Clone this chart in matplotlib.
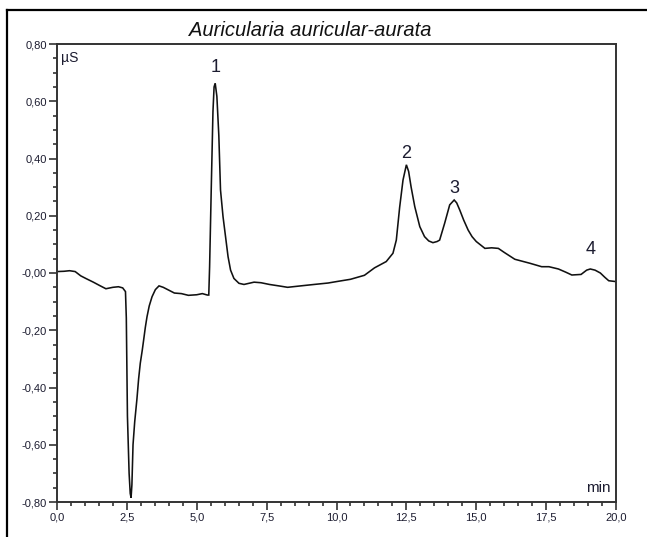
import matplotlib
matplotlib.use("Agg")
import matplotlib.pyplot as plt
from matplotlib.lines import Line2D
from matplotlib.ticker import FixedLocator, MultipleLocator

plt.rcParams['font.family'] = ['Liberation Sans', 'DejaVu Sans']

# ---- data ----
time_min = [0.00, 0.25, 0.45, 0.65, 0.85, 1.05, 1.30, 1.55, 1.75, 2.00, 2.20, 2.35, 2.45,
            2.48, 2.52, 2.58, 2.62, 2.65, 2.68, 2.72, 2.78, 2.86, 2.92, 2.98, 3.05, 3.10,
            3.16, 3.22, 3.30, 3.40, 3.52, 3.65, 3.80, 4.00, 4.20, 4.45, 4.70, 5.00, 5.20,
            5.38, 5.43, 5.46, 5.52, 5.58, 5.62, 5.66, 5.72, 5.79, 5.85, 5.94, 6.03, 6.12,
            6.21, 6.33, 6.51, 6.69, 7.05, 7.30, 7.60, 8.00, 8.25, 8.72, 9.20, 9.70, 10.00,
            10.50, 11.00, 11.36, 11.78, 12.02, 12.14, 12.26, 12.38, 12.50, 12.58, 12.67,
            12.80, 12.98, 13.15, 13.30, 13.45, 13.60, 13.69, 13.87, 14.05, 14.21, 14.30,
            14.41, 14.55, 14.71, 14.85, 15.00, 15.31, 15.55, 15.79, 16.00, 16.38, 16.92,
            17.34, 17.60, 17.94, 18.20, 18.42, 18.75, 18.95, 19.08, 19.25, 19.44, 19.60,
            19.74, 20.00]
signal_uS = [0.005, 0.006, 0.008, 0.005, -0.010, -0.020, -0.032, -0.045, -0.055, -0.050,
             -0.048, -0.052, -0.065, -0.157, -0.500, -0.700, -0.770, -0.785, -0.740, -0.600,
             -0.520, -0.440, -0.370, -0.315, -0.270, -0.234, -0.190, -0.153, -0.115, -0.083,
             -0.058, -0.045, -0.050, -0.060, -0.070, -0.072, -0.078, -0.076, -0.072, -0.077,
             -0.077, 0.022, 0.300, 0.564, 0.650, 0.663, 0.617, 0.480, 0.290, 0.197, 0.127,
             0.057, 0.010, -0.019, -0.036, -0.040, -0.032, -0.034, -0.040, -0.046, -0.050,
             -0.045, -0.040, -0.035, -0.030, -0.022, -0.008, 0.018, 0.040, 0.069, 0.115,
             0.230, 0.325, 0.378, 0.355, 0.300, 0.232, 0.162, 0.127, 0.112, 0.106, 0.110,
             0.115, 0.174, 0.238, 0.255, 0.245, 0.220, 0.185, 0.150, 0.127, 0.110, 0.086,
             0.088, 0.086, 0.072, 0.048, 0.034, 0.022, 0.022, 0.014, 0.003, -0.007, -0.005,
             0.010, 0.014, 0.010, 0.000, -0.015, -0.027, -0.030]

peak_labels = ["1", "2", "3", "4"]
peak_times = [5.66, 12.50, 14.21, 19.08]

x_ticks = [0.0, 2.5, 5.0, 7.5, 10.0, 12.5, 15.0, 17.5, 20.0]
x_tick_labels = ["0,0", "2,5", "5,0", "7,5", "10,0", "12,5", "15,0", "17,5", "20,0"]
y_ticks = [0.80, 0.60, 0.40, 0.20, 0.00, -0.20, -0.40, -0.60, -0.80]
y_tick_labels = ["0,80", "0,60", "0,40", "0,20", "-0,00", "-0,20", "-0,40", "-0,60", "-0,80"]

title = "Auricularia auricular-aurata"
y_unit = "µS"
x_unit = "min"

# ---- figure ----
W, H = 647, 537
fig = plt.figure(figsize=(W / 100, H / 100), dpi=100)
ax = fig.add_axes([57 / W, 1 - 502 / H, (616 - 57) / W, (502 - 44) / H])

ax.plot(time_min, signal_uS, color="#111111", lw=1.15, solid_joinstyle="miter")

ax.set_xlim(0, 20)
ax.set_ylim(-0.8, 0.8)
ax.xaxis.set_major_locator(FixedLocator(x_ticks))
ax.set_xticklabels(x_tick_labels)
ax.xaxis.set_minor_locator(MultipleLocator(0.5))
ax.yaxis.set_major_locator(FixedLocator(y_ticks))
ax.set_yticklabels(y_tick_labels)
ax.yaxis.set_minor_locator(MultipleLocator(0.05))

ax.tick_params(which="major", direction="out", length=5.8, width=1.1, colors="#222222",
               labelsize=8, pad=1.5)
ax.tick_params(which="minor", direction="out", length=2.6, width=1.1, color="#222222")
for lbl in ax.get_xticklabels() + ax.get_yticklabels():
    lbl.set_color("#1c1c30")
for s in ax.spines.values():
    s.set_linewidth(1.4)
    s.set_color("#333333")

ax.text(0.008, 0.985, y_unit, transform=ax.transAxes, ha="left", va="top", fontsize=10,
        color="#1c1c30")
ax.text(0.99, 0.015, x_unit, transform=ax.transAxes, ha="right", va="bottom", fontsize=11,
        color="#1c1c30")

# peak numbers above each peak
offsets = [5, 2, 2, 8]
for lab, t, off in zip(peak_labels, peak_times, offsets):
    i = time_min.index(t)
    ax.annotate(lab, xy=(t, signal_uS[i]), xytext=(0, off), textcoords="offset points",
                ha="center", va="bottom", fontsize=13, color="#1c1c30")

fig.text(310 / W, 1 - 36 / H, title, ha="center", va="baseline", fontsize=14.5,
         style="italic", color="#111111")

# outer frame (left and top edges visible)
fig.add_artist(Line2D([7 / W, 7 / W], [0, 1 - 10 / H], transform=fig.transFigure,
                      color="black", lw=1.6))
fig.add_artist(Line2D([7 / W, 1], [1 - 10 / H, 1 - 10 / H], transform=fig.transFigure,
                      color="black", lw=1.6))

fig.savefig("out.png", dpi=100)
